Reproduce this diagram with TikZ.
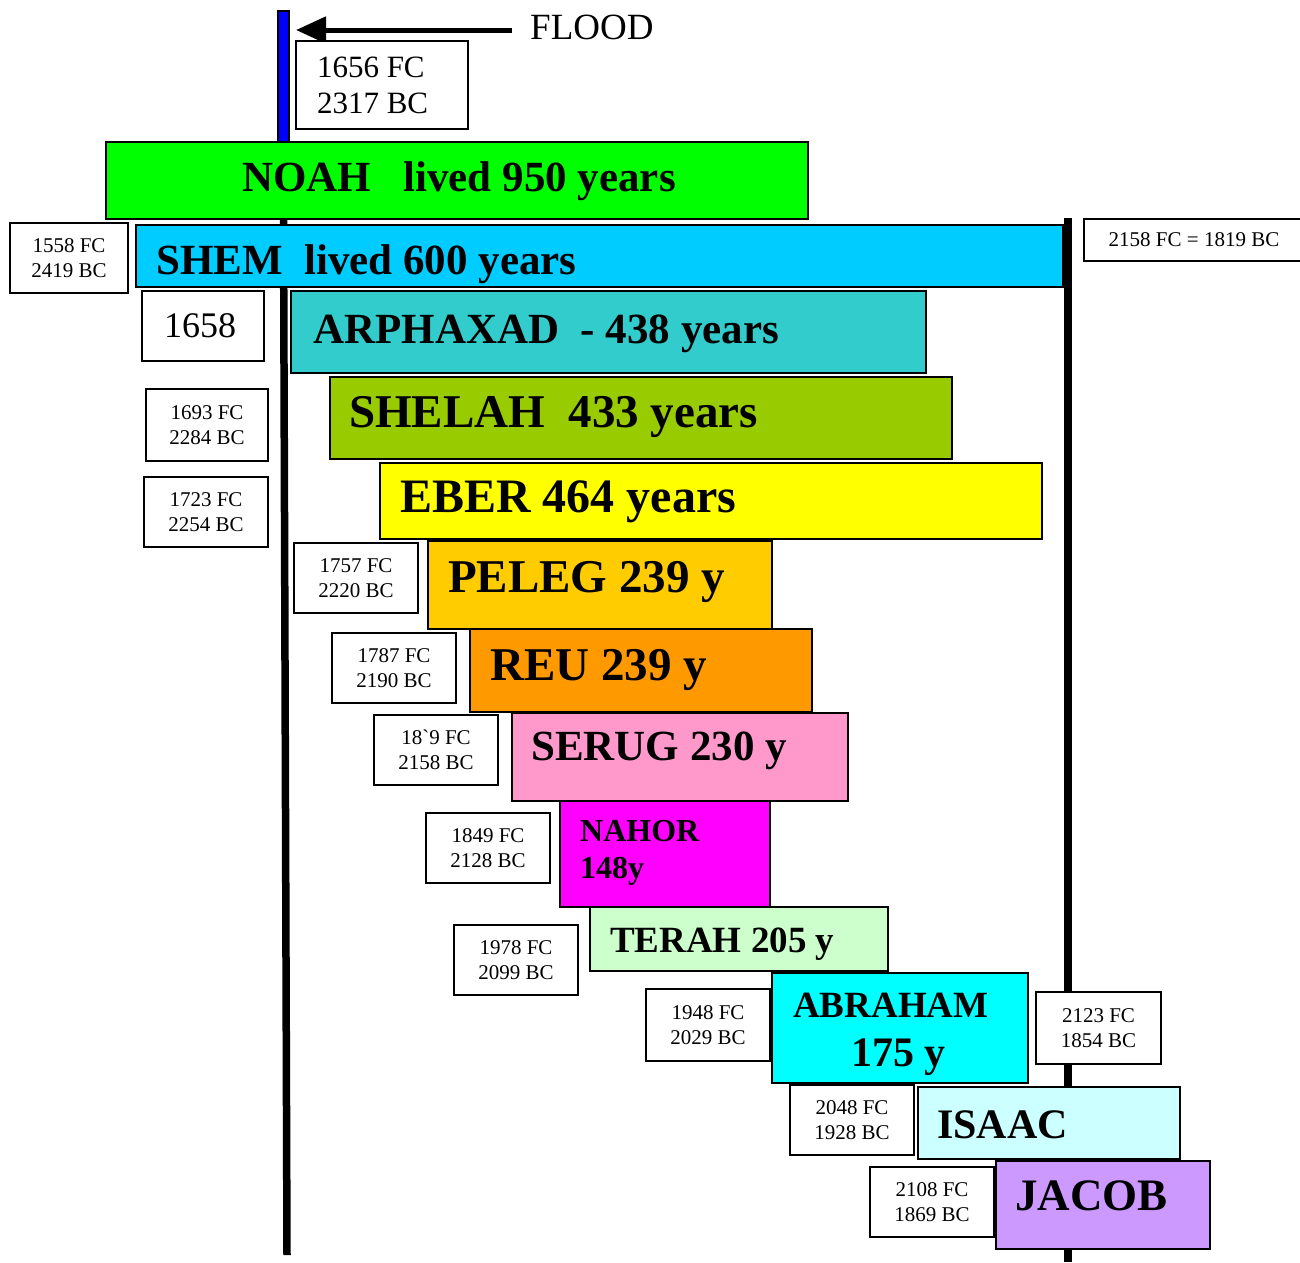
\documentclass[tikz,border=0pt]{standalone}
\usepackage{fontspec}
\setmainfont{Liberation Serif}
\usepackage{tikz}
\usetikzlibrary{arrows.meta, calc}
\usepackage{xcolor}
\definecolor{noahgreen}{HTML}{00FF00}
\definecolor{shemblue}{HTML}{00CCFF}
\definecolor{arphteal}{HTML}{33CCCC}
\definecolor{shelahlime}{HTML}{99CC00}
\definecolor{eberyellow}{HTML}{FFFF00}
\definecolor{peleggold}{HTML}{FFCC00}
\definecolor{reuorange}{HTML}{FF9900}
\definecolor{serugpink}{HTML}{FF99CC}
\definecolor{nahormagenta}{HTML}{FF00FF}
\definecolor{terahmint}{HTML}{CCFFCC}
\definecolor{abrahamcyan}{HTML}{00FFFF}
\definecolor{isaacice}{HTML}{CCFFFF}
\definecolor{jacoblilac}{HTML}{CC99FF}
\tikzset{
  lifebar/.style={
    rectangle, draw=black, line width=2pt,
    anchor=north west, inner sep=0pt
  },
  datebox/.style={
    rectangle, draw=black, fill=white, line width=2pt,
    anchor=north west, inner sep=0pt, align=center,
    font=\fontsize{21}{24.5}\selectfont
  },
  nametxt/.style={
    anchor=base west, inner sep=0pt,
    font=\bfseries\fontsize{43}{48}\selectfont
  },
  timeline/.style={line width=7.5pt, draw=black}
}

\begin{document}
\begin{tikzpicture}[x=1pt, y=-1pt]
\useasboundingbox (0,0) rectangle (1300,1262);

% ── Time lines ──────────────────────────────────────────────
\node[rectangle, draw=black, fill=blue, line width=1.5pt,
      minimum width=11pt, minimum height=131pt,
      anchor=north west, inner sep=0pt] (floodline) at (277,10) {};
\coordinate (leftend) at (287,1255);
\coordinate (righttop) at (1068,218);
\coordinate (rightend) at (1068,1262);
\draw[timeline] (floodline.south) -- (leftend);
\draw[timeline] (righttop) -- (rightend);

% ── Flood marker ────────────────────────────────────────────
\node[anchor=base west, inner sep=0pt,
      font=\fontsize{37}{40}\selectfont] (floodtxt) at (530,39) {FLOOD};
\coordinate (floodtip) at (296,30);
\draw[line width=5pt, -{Triangle[length=30pt, width=26pt]}]
  (floodtxt.west |- floodtip) ++(-18,0) -- (floodtip);
\node[datebox, minimum height=88pt, text width=130pt, align=flush left,
      inner xsep=21pt, font=\fontsize{31}{36}\selectfont]
  (dflood) at (295,40) {1656 FC\\2317 BC};

% ── Life bars ───────────────────────────────────────────────
\node[lifebar, fill=noahgreen, minimum width=702pt, minimum height=77pt]
  (noah) at (105,141) {};
\node[lifebar, fill=shemblue, minimum width=927pt, minimum height=62pt]
  (shem) at (135,224) {};
\node[lifebar, fill=arphteal, minimum width=635pt, minimum height=82pt]
  (arphaxad) at (290,290) {};
\node[lifebar, fill=shelahlime, minimum width=622pt, minimum height=82pt]
  (shelah) at (329,376) {};
\node[lifebar, fill=eberyellow, minimum width=662pt, minimum height=76pt]
  (eber) at (379,462) {};
\node[lifebar, fill=peleggold, minimum width=344pt, minimum height=88pt]
  (peleg) at (427,540) {};
\node[lifebar, fill=reuorange, minimum width=342pt, minimum height=83pt]
  (reu) at (469,628) {};
\node[lifebar, fill=serugpink, minimum width=336pt, minimum height=88pt]
  (serug) at (511,712) {};
\node[lifebar, fill=nahormagenta, minimum width=210pt, minimum height=106pt]
  (nahor) at (559,800) {};
\node[lifebar, fill=terahmint, minimum width=298pt, minimum height=64pt]
  (terah) at (589,906) {};
\node[lifebar, fill=abrahamcyan, minimum width=256pt, minimum height=110pt]
  (abraham) at (771,972) {};
\node[lifebar, fill=isaacice, minimum width=262pt, minimum height=72pt]
  (isaac) at (917,1086) {};
\node[lifebar, fill=jacoblilac, minimum width=214pt, minimum height=88pt]
  (jacob) at (995,1160) {};

% ── Names ───────────────────────────────────────────────────
\node[nametxt] (noahtxt) at (242,191) {NOAH\ \ \ lived 950 years};
\node[nametxt] (shemtxt) at (156,274) {SHEM\ \ lived 600 years};
\node[nametxt] (arphtxt) at (313,343) {ARPHAXAD\ \ - 438 years};
\node[nametxt, font=\bfseries\fontsize{47}{50}\selectfont]
  (shelahtxt) at (349,427) {SHELAH\ \ 433 years};
\node[nametxt, font=\bfseries\fontsize{48}{50}\selectfont]
  (ebertxt) at (400,512) {EBER 464 years};
\node[nametxt, font=\bfseries\fontsize{47}{50}\selectfont]
  (pelegtxt) at (448,592) {PELEG 239 y};
\node[nametxt, font=\bfseries\fontsize{47}{50}\selectfont]
  (reutxt) at (490,680) {REU 239 y};
\node[nametxt] (serugtxt) at (531,760) {SERUG 230 y};
\node[nametxt, font=\bfseries\fontsize{32}{36}\selectfont]
  (nahortxt) at (580,841) {NAHOR};
\node[nametxt, font=\bfseries\fontsize{32}{36}\selectfont]
  (nahoryrs) at (580,878) {148y};
\node[nametxt, font=\bfseries\fontsize{37}{40}\selectfont]
  (terahtxt) at (610,952) {TERAH 205 y};
\node[nametxt, font=\bfseries\fontsize{37}{40}\selectfont]
  (abrahamtxt) at (793,1017) {ABRAHAM};
\node[nametxt, font=\bfseries\fontsize{42}{46}\selectfont]
  (abrahamyrs) at (851,1066) {175 y};
\node[nametxt, font=\bfseries\fontsize{42}{46}\selectfont]
  (isaactxt) at (937,1138) {ISAAC};
\node[nametxt, font=\bfseries\fontsize{45}{48}\selectfont]
  (jacobtxt) at (1015,1210) {JACOB};

% ── Date boxes ──────────────────────────────────────────────
\node[datebox, minimum width=118pt, minimum height=70pt]
  (dshem) at (9,222) {1558 FC\\2419 BC};
\node[datebox, minimum width=220pt, minimum height=42pt]
  (dshemend) at (1083,218) {2158 FC = 1819 BC};
\node[datebox, minimum width=122pt, minimum height=70pt,
      font=\fontsize{36}{40}\selectfont]
  (darph) at (141,290) {1658\hspace*{6pt}};
\node[datebox, minimum width=122pt, minimum height=72pt]
  (dshelah) at (145,388) {1693 FC\\2284 BC};
\node[datebox, minimum width=124pt, minimum height=70pt]
  (deber) at (143,476) {1723 FC\\2254 BC};
\node[datebox, minimum width=124pt, minimum height=70pt]
  (dpeleg) at (293,542) {1757 FC\\2220 BC};
\node[datebox, minimum width=124pt, minimum height=70pt]
  (dreu) at (331,632) {1787 FC\\2190 BC};
\node[datebox, minimum width=124pt, minimum height=70pt]
  (dserug) at (373,714) {18\textasciigrave9 FC\\2158 BC};
\node[datebox, minimum width=124pt, minimum height=70pt]
  (dnahor) at (425,812) {1849 FC\\2128 BC};
\node[datebox, minimum width=124pt, minimum height=70pt]
  (dterah) at (453,924) {1978 FC\\2099 BC};
\node[datebox, minimum width=124pt, minimum height=72pt]
  (dabraham) at (645,988) {1948 FC\\2029 BC};
\node[datebox, minimum width=125pt, minimum height=72pt]
  (dabrahamend) at (1035,991) {2123 FC\\1854 BC};
\node[datebox, minimum width=124pt, minimum height=70pt]
  (disaac) at (789,1084) {2048 FC\\1928 BC};
\node[datebox, minimum width=124pt, minimum height=70pt]
  (djacob) at (869,1166) {2108 FC\\1869 BC};

\end{tikzpicture}
\end{document}
